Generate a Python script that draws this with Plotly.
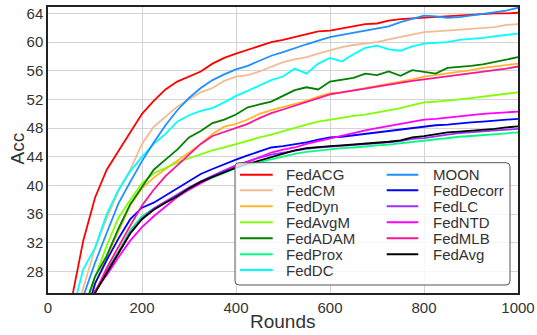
import plotly.graph_objects as go

rounds = [0, 25, 50, 75, 100, 125, 150, 175, 200, 225, 250, 275, 300, 325, 350, 375, 400,
          425, 450, 475, 500, 525, 550, 575, 600, 625, 650, 675, 700, 725, 750, 775, 800,
          825, 850, 875, 900, 925, 950, 975, 1000]

fedacg = [8, 15, 24, 32.3, 38.3, 42.2, 44.8, 47.4, 50.0, 51.8, 53.4, 54.5, 55.2, 55.9, 57.0, 57.8, 58.4,
          58.9, 59.4, 60.0, 60.3, 60.7, 61.2, 61.5, 61.6, 61.9, 62.2, 62.5, 62.6, 63.0, 63.2, 63.3, 63.5,
          63.6, 63.6, 63.8, 63.8, 63.9, 64.0, 64.0, 64.1]
fedcm = [6, 13, 19.5, 25.7, 31.2, 35.4, 39.2, 42.2, 45.8, 48.2, 49.6, 51.0, 52.0, 53.0, 53.6, 54.6, 55.2,
         55.4, 55.9, 56.5, 57.2, 57.6, 57.9, 58.4, 58.9, 59.3, 59.6, 59.8, 60.0, 60.4, 60.7, 61.1, 61.4,
         61.5, 61.6, 61.7, 61.8, 62.0, 62.1, 62.4, 62.5]
feddyn = [4, 10, 15.5, 21, 26.3, 30.0, 33.7, 37.2, 39.6, 41.1, 42.3, 43.4, 44.6, 45.8, 47.2, 48.2, 48.6,
          49.2, 50.0, 50.5, 50.9, 51.3, 51.8, 52.4, 52.9, 53.0, 53.3, 53.6, 53.9, 54.1, 54.4, 54.8, 55.2,
          55.4, 55.6, 55.8, 56.1, 56.4, 56.6, 56.8, 57.0]
fedavgm = [5, 11, 16.5, 22, 27.2, 31.6, 35.5, 38.0, 40.3, 41.7, 42.5, 43.2, 43.8, 44.4, 44.9, 45.3, 45.8,
           46.2, 46.7, 47.1, 47.6, 48.1, 48.5, 48.9, 49.2, 49.5, 49.7, 49.9, 50.2, 50.4, 50.8, 51.2, 51.6,
           51.7, 51.8, 52.0, 52.2, 52.4, 52.6, 52.8, 53.0]
fedadam = [5, 11, 17, 22.5, 27.3, 30.2, 34.0, 37.4, 39.8, 42.2, 43.6, 45.0, 46.7, 47.6, 48.7, 49.2, 49.9,
           50.9, 51.3, 51.7, 52.5, 53.3, 53.7, 53.4, 54.5, 54.7, 55.0, 55.6, 55.4, 55.9, 55.3, 56.1, 55.8,
           55.6, 56.4, 56.5, 56.7, 56.9, 57.2, 57.5, 57.9]
fedprox = [2, 7, 12.6, 18.6, 25.1, 28.1, 30.8, 33.8, 35.7, 36.8, 37.7, 38.6, 39.5, 40.4, 41.1, 41.8, 42.4,
           42.9, 43.3, 43.7, 44.1, 44.4, 44.7, 44.9, 45.0, 45.2, 45.3, 45.5, 45.6, 45.7, 45.9, 46.1, 46.3,
           46.5, 46.6, 46.8, 46.9, 47.0, 47.1, 47.3, 47.4]
feddc = [8, 15, 22, 28.3, 31.3, 36.0, 39.4, 42.0, 44.0, 45.8, 47.2, 48.9, 49.8, 50.4, 50.8, 51.6, 52.5,
         53.2, 54.0, 54.7, 55.2, 56.3, 55.6, 57.0, 57.8, 57.3, 58.3, 59.2, 59.5, 59.0, 58.8, 59.4, 59.8,
         59.9, 60.0, 60.3, 60.4, 60.6, 60.8, 61.0, 61.2]
moon = [5, 12, 19, 24.5, 29.2, 33.4, 37.5, 40.5, 43.4, 46.0, 48.4, 50.5, 52.2, 53.6, 54.7, 55.5, 56.2,
        56.7, 57.4, 58.1, 58.6, 59.2, 59.7, 60.2, 60.7, 61.0, 61.3, 61.6, 62.0, 62.2, 62.8, 63.3, 63.7,
        63.6, 63.4, 63.5, 63.7, 63.9, 64.1, 64.4, 64.8]
feddecorr = [4, 9, 14.5, 20.5, 26.3, 29.6, 32.6, 35.3, 36.9, 37.6, 38.6, 39.6, 40.7, 41.6, 42.3, 43.0, 43.6,
             44.2, 44.8, 45.3, 45.5, 45.7, 46.0, 46.4, 46.7, 46.8, 47.0, 47.2, 47.4, 47.6, 47.8, 48.1, 48.3,
             48.4, 48.5, 48.7, 48.8, 48.9, 49.0, 49.1, 49.3]
fedlc = [2, 7, 12.8, 18.8, 25.2, 28.0, 30.6, 33.4, 35.4, 36.8, 37.8, 38.7, 39.7, 40.6, 41.4, 42.1, 42.8,
         43.4, 43.9, 44.3, 44.6, 44.9, 45.1, 45.3, 45.4, 45.5, 45.6, 45.8, 45.9, 46.0, 46.2, 46.5, 46.6,
         46.9, 47.1, 47.3, 47.4, 47.6, 47.7, 47.8, 47.9]
fedntd = [3, 8, 13.5, 19.5, 25.3, 27.5, 30.0, 32.3, 34.2, 35.7, 37.1, 38.4, 39.4, 40.3, 41.2, 41.9, 42.7,
          43.3, 44.0, 44.6, 45.0, 45.3, 45.8, 46.2, 46.6, 46.9, 47.3, 47.7, 48.0, 48.3, 48.6, 48.9, 49.2,
          49.3, 49.5, 49.7, 49.8, 50.0, 50.1, 50.2, 50.3]
fedmlb = [3, 8, 13, 19, 25.0, 28.5, 31.5, 34.4, 37.2, 39.4, 41.3, 42.8, 44.4, 45.8, 46.9, 47.5, 48.1,
          48.6, 49.4, 50.1, 50.6, 51.1, 51.6, 52.2, 52.7, 53.0, 53.2, 53.5, 53.8, 54.1, 54.3, 54.6, 54.8,
          55.0, 55.2, 55.4, 55.7, 55.9, 56.1, 56.3, 56.6]
fedavg = [2, 7, 12.5, 18.5, 25.0, 27.8, 30.6, 33.3, 35.3, 36.6, 37.6, 38.5, 39.6, 40.5, 41.2, 41.9, 42.5,
          43.0, 43.5, 44.0, 44.5, 44.9, 45.2, 45.4, 45.5, 45.6, 45.7, 45.8, 46.0, 46.1, 46.3, 46.7, 46.9,
          47.2, 47.4, 47.5, 47.6, 47.8, 47.9, 48.1, 48.25]

names = ["FedACG", "FedCM", "FedDyn", "FedAvgM", "FedADAM", "FedProx", "FedDC",
         "MOON", "FedDecorr", "FedLC", "FedNTD", "FedMLB", "FedAvg"]
series = [fedacg, fedcm, feddyn, fedavgm, fedadam, fedprox, feddc,
          moon, feddecorr, fedlc, fedntd, fedmlb, fedavg]
colors = ["#FF0000", "#F4BA94", "#FFB62E", "#7FFF00", "#008000", "#00FF7F", "#00FFFF",
          "#1E90FF", "#0000FF", "#9933FF", "#FF00FF", "#FF1493", "#000000"]

x_ticks = [0, 200, 400, 600, 800, 1000]
y_ticks = [28, 32, 36, 40, 44, 48, 52, 56, 60, 64]

W, H = 537, 335
ML, MR, MT, MB = 48, 19, 7, 42
PW, PH = W - ML - MR, H - MT - MB

def px(xp):
    return (xp - ML) / PW

def py(yp):
    return (MT + PH - yp) / PH

fig = go.Figure()
for n, s, c in zip(names, series, colors):
    fig.add_trace(go.Scatter(x=rounds, y=s, mode="lines", name=n,
                             line=dict(color=c, width=1.8), showlegend=False))

font_fam = "Liberation Sans, Arial, sans-serif"
txt_col = "#333333"

shapes = []
annotations = []
# legend frame (rounded)
bx0, bx1, by0, by1 = px(235), px(510), py(285), py(162.7)
rx, ry = 4 / PW, 4 / PH
path = (f"M {bx0+rx},{by1} L {bx1-rx},{by1} Q {bx1},{by1} {bx1},{by1-ry} "
        f"L {bx1},{by0+ry} Q {bx1},{by0} {bx1-rx},{by0} L {bx0+rx},{by0} "
        f"Q {bx0},{by0} {bx0},{by0+ry} L {bx0},{by1-ry} Q {bx0},{by1} {bx0+rx},{by1} Z")
shapes.append(dict(type="path", path=path, xref="paper", yref="paper", layer="above",
                   fillcolor="rgba(255,255,255,0.8)", line=dict(color="#555555", width=1)))

rows_y = [174.7, 190.3, 206.3, 222.3, 238.3, 254.3, 270.0]
cols = [(240, 272.7, 285), (386.7, 418.3, 431.7)]
for i, (n, c) in enumerate(zip(names, colors)):
    col = 0 if i < 7 else 1
    row = i if i < 7 else i - 7
    lx0, lx1, tx = cols[col]
    yy = py(rows_y[row])
    shapes.append(dict(type="line", xref="paper", yref="paper", layer="above",
                       x0=px(lx0), x1=px(lx1), y0=yy, y1=yy, line=dict(color=c, width=2)))
    annotations.append(dict(text=n, xref="paper", yref="paper", x=px(tx), y=yy,
                            xanchor="left", yanchor="middle", showarrow=False, borderpad=0,
                            font=dict(family=font_fam, size=15, color=txt_col)))

# axis titles placed as annotations at fixed pixel positions
annotations.append(dict(text="Rounds", xref="paper", yref="paper", x=px(283), y=py(321),
                        xanchor="center", yanchor="middle", showarrow=False,
                        font=dict(family=font_fam, size=19, color=txt_col)))
annotations.append(dict(text="Acc", xref="paper", yref="paper", x=px(16.5), y=py(149),
                        xanchor="center", yanchor="middle", showarrow=False, textangle=-90,
                        font=dict(family=font_fam, size=19, color=txt_col)))

fig.update_layout(
    width=W, height=H,
    margin=dict(l=ML, r=MR, t=MT, b=MB, pad=0, autoexpand=False),
    paper_bgcolor="white", plot_bgcolor="white",
    font=dict(family=font_fam, size=15, color=txt_col),
    shapes=shapes, annotations=annotations,
    showlegend=False,
)
fig.update_xaxes(range=[0, 1000], tickvals=x_ticks, ticktext=[str(v) for v in x_ticks],
                 showgrid=True, gridcolor="#d4d4d4", gridwidth=1, zeroline=False,
                 showline=True, mirror=True, linecolor="#222222", linewidth=1.5,
                 ticks="", automargin=False, tickfont=dict(size=15, color=txt_col))
fig.update_yaxes(range=[25, 64.9], tickvals=y_ticks, ticktext=[str(v) for v in y_ticks],
                 showgrid=True, gridcolor="#d4d4d4", gridwidth=1, zeroline=False,
                 showline=True, mirror=True, linecolor="#222222", linewidth=1.5,
                 ticks="", automargin=False, tickfont=dict(size=15, color=txt_col))

fig.write_html("out.html", config={"displayModeBar": False},
               post_script="document.body.style.margin='0px';document.body.style.overflow='hidden';")
